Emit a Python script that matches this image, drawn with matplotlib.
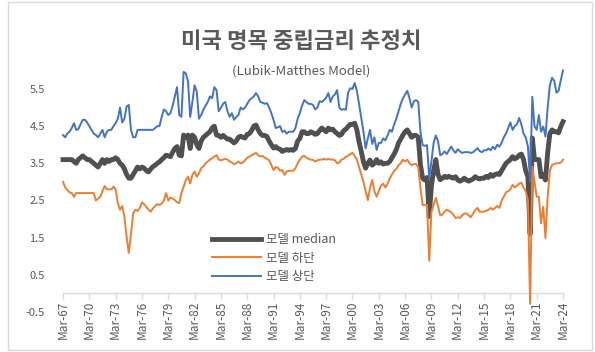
import numpy as np
import matplotlib
matplotlib.use("Agg")
import matplotlib.pyplot as plt
from matplotlib.patches import Rectangle

plt.rcParams['font.family'] = ['Noto Sans CJK KR', 'DejaVu Sans']

# 분기별 추정치 (1967Q1 ~ 2024Q1), 한 줄에 1년(4분기)
median = [
    3.6, 3.6, 3.6, 3.6,      # 1967
    3.6, 3.55, 3.5, 3.6,     # 1968
    3.65, 3.7, 3.65, 3.6,    # 1969
    3.6, 3.55, 3.5, 3.45,    # 1970
    3.4, 3.5, 3.6, 3.5,      # 1971
    3.6, 3.55, 3.6, 3.6,     # 1972
    3.65, 3.6, 3.5, 3.45,    # 1973
    3.35, 3.2, 3.1, 3.1,     # 1974
    3.2, 3.3, 3.4, 3.35,     # 1975
    3.4, 3.37, 3.3, 3.27,    # 1976
    3.35, 3.41, 3.45, 3.5,   # 1977
    3.54, 3.6, 3.65, 3.72,   # 1978
    3.7, 3.68, 3.8, 3.9,     # 1979
    3.95, 3.72, 3.7, 4.26,   # 1980
    4.2, 4.26, 3.9, 4.26,    # 1981
    4.2, 4.0, 3.9, 4.1,      # 1982
    4.2, 4.25, 4.3, 4.35,    # 1983
    4.45, 4.5, 4.26, 4.25,   # 1984
    4.2, 4.25, 4.2, 4.15,    # 1985
    4.15, 4.1, 4.05, 4.1,    # 1986
    4.2, 4.23, 4.2, 4.18,    # 1987
    4.28, 4.3, 4.38, 4.5,    # 1988
    4.53, 4.4, 4.3, 4.25,    # 1989
    4.25, 4.22, 4.1, 4.0,    # 1990
    3.91, 3.95, 3.9, 3.88,   # 1991
    3.82, 3.85, 3.87, 3.85,  # 1992
    3.87, 3.85, 3.9, 4.1,    # 1993
    4.17, 4.35, 4.35, 4.3,   # 1994
    4.3, 4.35, 4.32, 4.28,   # 1995
    4.3, 4.38, 4.45, 4.4,    # 1996
    4.35, 4.45, 4.4, 4.42,   # 1997
    4.35, 4.3, 4.25, 4.28,   # 1998
    4.38, 4.42, 4.49, 4.55,  # 1999
    4.55, 4.58, 4.4, 4.08,   # 2000
    3.82, 3.54, 3.37, 3.5,   # 2001
    3.59, 3.45, 3.5, 3.6,    # 2002
    3.5, 3.54, 3.48, 3.5,    # 2003
    3.5, 3.55, 3.65, 3.75,   # 2004
    3.87, 4.05, 4.15, 4.26,  # 2005
    4.35, 4.4, 4.3, 4.2,     # 2006
    4.25, 4.25, 4.2, 3.46,   # 2007
    3.1, 3.05, 3.12, 2.07,   # 2008
    2.9, 3.3, 3.6, 3.2,      # 2009
    3.06, 3.1, 3.15, 3.12,   # 2010
    3.15, 3.12, 3.1, 3.14,   # 2011
    3.05, 3.02, 3.05, 3.1,   # 2012
    3.05, 3.02, 3.05, 3.08,  # 2013
    3.14, 3.1, 3.08, 3.1,    # 2014
    3.1, 3.15, 3.12, 3.2,    # 2015
    3.15, 3.2, 3.22, 3.2,    # 2016
    3.3, 3.4, 3.5, 3.55,     # 2017
    3.6, 3.68, 3.62, 3.65,   # 2018
    3.72, 3.75, 3.6, 3.3,    # 2019
    3.14, 1.6, 4.18, 3.6,    # 2020
    3.6, 3.6, 3.14, 3.2,     # 2021
    3.05, 3.78, 4.3, 4.4,    # 2022
    4.35, 4.35, 4.32, 4.49,  # 2023
    4.62,                    # 2024
]

lower = [
    3.0, 2.85, 2.78, 2.72,   # 1967
    2.7, 2.6, 2.7, 2.7,      # 1968
    2.7, 2.7, 2.7, 2.7,      # 1969
    2.7, 2.7, 2.7, 2.5,      # 1970
    2.55, 2.6, 2.75, 2.89,   # 1971
    2.8, 2.8, 2.8, 2.87,     # 1972
    2.8, 2.43, 2.25, 2.35,   # 1973
    2.06, 1.52, 1.09, 1.6,   # 1974
    2.16, 2.25, 2.22, 2.3,   # 1975
    2.45, 2.4, 2.33, 2.25,   # 1976
    2.2, 2.29, 2.35, 2.4,    # 1977
    2.38, 2.42, 2.5, 2.7,    # 1978
    2.5, 2.58, 2.55, 2.51,   # 1979
    2.45, 2.43, 2.7, 2.87,   # 1980
    3.05, 3.14, 2.96, 3.19,  # 1981
    3.28, 3.14, 3.23, 3.37,  # 1982
    3.42, 3.5, 3.55, 3.6,    # 1983
    3.64, 3.68, 3.72, 3.6,   # 1984
    3.58, 3.6, 3.62, 3.6,    # 1985
    3.55, 3.52, 3.48, 3.5,   # 1986
    3.55, 3.5, 3.52, 3.58,   # 1987
    3.65, 3.68, 3.72, 3.75,  # 1988
    3.78, 3.72, 3.68, 3.7,   # 1989
    3.65, 3.62, 3.58, 3.45,  # 1990
    3.32, 3.4, 3.38, 3.3,    # 1991
    3.32, 3.19, 3.28, 3.3,   # 1992
    3.3, 3.3, 3.37, 3.5,     # 1993
    3.6, 3.68, 3.7, 3.65,    # 1994
    3.62, 3.6, 3.59, 3.55,   # 1995
    3.58, 3.6, 3.6, 3.62,    # 1996
    3.6, 3.62, 3.6, 3.6,     # 1997
    3.58, 3.5, 3.52, 3.6,    # 1998
    3.62, 3.68, 3.7, 3.75,   # 1999
    3.78, 3.7, 3.6, 3.4,     # 2000
    3.2, 3.0, 2.75, 2.51,    # 2001
    2.85, 3.05, 2.75, 2.6,   # 2002
    2.75, 2.9, 2.95, 2.85,   # 2003
    2.95, 3.1, 3.2, 3.3,     # 2004
    3.35, 3.45, 3.5, 3.6,    # 2005
    3.55, 3.6, 3.5, 3.45,    # 2006
    3.48, 3.48, 3.4, 2.83,   # 2007
    2.38, 2.38, 2.38, 0.88,  # 2008
    2.2, 2.38, 2.57, 2.35,   # 2009
    2.1, 2.12, 2.2, 2.25,    # 2010
    2.22, 2.18, 2.12, 2.03,  # 2011
    2.05, 2.03, 2.1, 2.15,   # 2012
    2.15, 2.1, 2.05, 2.15,   # 2013
    2.24, 2.3, 2.2, 2.2,     # 2014
    2.2, 2.22, 2.25, 2.3,    # 2015
    2.25, 2.3, 2.35, 2.3,    # 2016
    2.5, 2.6, 2.72, 2.75,    # 2017
    2.8, 2.92, 2.85, 2.9,    # 2018
    2.95, 2.98, 2.85, 2.75,  # 2019
    2.5, -0.28, 3.41, 3.0,   # 2020
    2.6, 2.6, 1.89, 2.33,    # 2021
    1.49, 2.6, 3.3, 3.46,    # 2022
    3.48, 3.5, 3.5, 3.52,    # 2023
    3.6,                     # 2024
]

upper = [
    4.26, 4.2, 4.3, 4.35,    # 1967
    4.45, 4.58, 4.4, 4.42,   # 1968
    4.55, 4.67, 4.67, 4.6,   # 1969
    4.5, 4.4, 4.3, 4.26,     # 1970
    4.2, 4.3, 4.4, 4.2,      # 1971
    4.35, 4.4, 4.4, 4.5,     # 1972
    4.58, 4.7, 5.0, 4.6,     # 1973
    4.7, 5.03, 5.07, 4.4,    # 1974
    4.2, 4.2, 4.4, 4.4,      # 1975
    4.4, 4.4, 4.4, 4.4,      # 1976
    4.4, 4.4, 4.45, 4.5,     # 1977
    4.5, 4.75, 4.95, 4.9,    # 1978
    4.8, 4.85, 5.05, 5.3,    # 1979
    5.55, 4.8, 4.75, 5.96,   # 1980
    5.92, 5.7, 4.75, 5.15,   # 1981
    5.6, 5.43, 4.7, 4.8,     # 1982
    4.94, 5.05, 5.15, 5.3,   # 1983
    5.25, 5.55, 5.47, 4.9,   # 1984
    4.99, 5.1, 5.15, 4.9,    # 1985
    4.75, 4.85, 4.67, 4.75,  # 1986
    4.8, 5.0, 4.95, 5.0,     # 1987
    5.1, 5.2, 5.25, 5.3,     # 1988
    5.39, 5.3, 5.15, 5.13,   # 1989
    5.1, 5.12, 5.0, 4.85,    # 1990
    4.67, 4.45, 4.47, 4.5,   # 1991
    4.34, 4.38, 4.3, 4.35,   # 1992
    4.35, 4.35, 4.45, 4.7,   # 1993
    4.85, 5.05, 5.2, 5.15,   # 1994
    5.1, 5.1, 5.07, 4.95,    # 1995
    5.0, 5.17, 5.15, 5.2,    # 1996
    5.27, 5.39, 5.15, 5.3,   # 1997
    5.35, 5.47, 5.0, 4.94,   # 1998
    4.96, 4.94, 5.4, 5.52,   # 1999
    5.5, 5.66, 5.45, 5.1,    # 2000
    4.72, 4.35, 3.9, 4.17,   # 2001
    4.4, 4.02, 4.2, 3.86,    # 2002
    4.05, 4.05, 4.17, 4.12,  # 2003
    4.25, 4.4, 4.35, 4.55,   # 2004
    4.7, 4.9, 5.1, 5.25,     # 2005
    5.35, 5.45, 5.25, 5.0,   # 2006
    5.17, 5.2, 5.15, 4.35,   # 2007
    3.99, 3.97, 3.99, 3.1,   # 2008
    3.55, 4.05, 4.25, 4.1,   # 2009
    3.72, 3.75, 3.82, 3.75,  # 2010
    3.85, 3.95, 3.85, 3.78,  # 2011
    3.88, 3.82, 3.78, 3.8,   # 2012
    3.8, 3.8, 3.78, 3.8,     # 2013
    3.85, 3.91, 3.83, 3.8,   # 2014
    3.85, 3.85, 3.9, 3.85,   # 2015
    3.95, 3.88, 4.0, 3.95,   # 2016
    4.05, 4.2, 4.3, 4.45,    # 2017
    4.6, 4.4, 4.5, 4.55,     # 2018
    4.72, 4.55, 4.3, 4.2,    # 2019
    3.95, 3.0, 5.29, 4.5,    # 2020
    4.4, 4.8, 4.35, 4.49,    # 2021
    4.22, 5.0, 5.6, 5.8,     # 2022
    5.72, 5.4, 5.45, 5.74,   # 2023
    6.0,                     # 2024
]

tick_labels = ['Mar-67', 'Mar-70', 'Mar-73', 'Mar-76', 'Mar-79', 'Mar-82', 'Mar-85',
               'Mar-88', 'Mar-91', 'Mar-94', 'Mar-97', 'Mar-00', 'Mar-03', 'Mar-06',
               'Mar-09', 'Mar-12', 'Mar-15', 'Mar-18', 'Mar-21', 'Mar-24']
y_ticks = [-0.5, 0.5, 1.5, 2.5, 3.5, 4.5, 5.5]

txt = '#595959'
W, H = 595, 352

fig = plt.figure(figsize=(W / 100, H / 100), dpi=100)
ax = fig.add_axes([63 / W, 1 - 312 / H, 500 / W, 241.6 / H])

x = np.arange(len(median))
ax.plot(x, median, color='#505050', lw=3.5, solid_joinstyle='round',
        clip_on=False, zorder=2, label='모델 median')
ax.plot(x, lower, color='#ED7D31', lw=1.4, solid_joinstyle='round',
        clip_on=False, zorder=3, label='모델 하단')
ax.plot(x, upper, color='#4472C4', lw=1.4, solid_joinstyle='round',
        clip_on=False, zorder=4, label='모델 상단')

ax.set_xlim(0, len(median) - 1)
ax.set_ylim(-0.5, 6.0)
ax.set_yticks(y_ticks)
ax.set_yticklabels([f'{v:.1f}' for v in y_ticks])
ax.set_xticks(np.arange(0, len(median), 12))
ax.set_xticklabels(tick_labels)

for s in ['top', 'right', 'left']:
    ax.spines[s].set_visible(False)
ax.spines['bottom'].set_position(('data', 0))
ax.spines['bottom'].set_color('#d9d9d9')
ax.spines['bottom'].set_linewidth(1.0)

ax.tick_params(axis='x', length=4, width=1, color='#d9d9d9', direction='out',
               labelrotation=90, labelsize=8.5, labelcolor=txt, pad=1)
ax.tick_params(axis='y', length=0, labelsize=8, labelcolor=txt, pad=13)

leg = ax.legend(loc='center left', bbox_to_anchor=(0.298, 0.222), frameon=False,
                fontsize=9, handlelength=3.9, handletextpad=0.4, labelspacing=0.45,
                borderpad=0, borderaxespad=0)
for t in leg.get_texts():
    t.set_color(txt)

fig.text(301 / W, 1 - 42 / H, '미국 명목 중립금리 추정치', ha='center', va='center',
         fontsize=16, fontweight='bold', color=txt)
fig.text(301 / W, 1 - 71 / H, '(Lubik-Matthes Model)', ha='center', va='center',
         fontsize=9.5, color=txt)

# 차트 테두리
fig.patches.append(Rectangle((8 / W, 2 / H), 584 / W, 348 / H, transform=fig.transFigure,
                             fill=False, edgecolor='#d9d9d9', lw=1))

fig.savefig('out.png', dpi=100)
